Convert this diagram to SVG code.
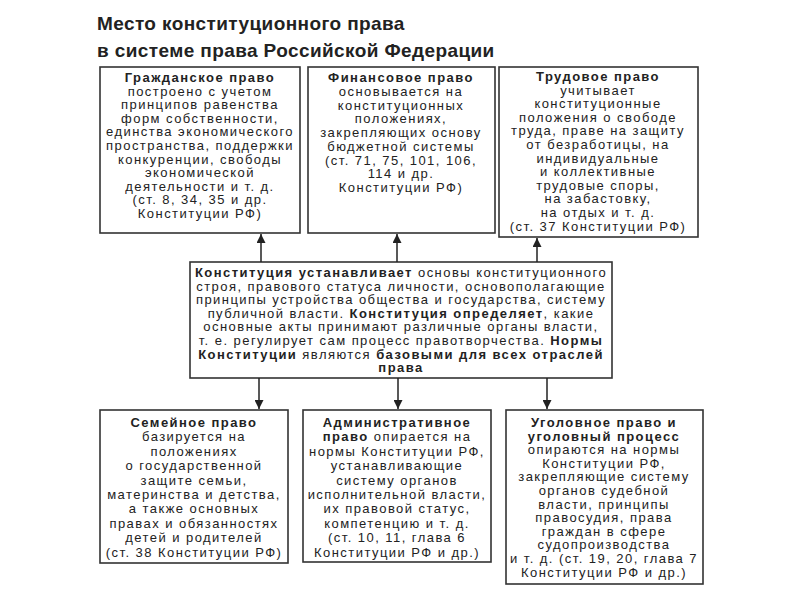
<svg xmlns="http://www.w3.org/2000/svg" width="800" height="600" viewBox="0 0 800 600">
<style>
.box{fill:#fff;stroke:#333;stroke-width:1.6}
.t{font-family:"Liberation Sans",Arial,sans-serif;font-size:13px;letter-spacing:1.45px;fill:#222;text-anchor:middle}
.b{font-weight:bold}
.title{font-family:"Liberation Sans",Arial,sans-serif;font-size:19px;letter-spacing:0.4px;font-weight:bold;fill:#222}
.c{stroke:#222;stroke-width:1.5;fill:none}
</style>
<defs>
<marker id="ah" viewBox="0 0 10 10" refX="10" refY="5" markerWidth="9" markerHeight="9" markerUnits="userSpaceOnUse" orient="auto">
<path d="M0,0 L10,5 L0,10 z" fill="#222"/>
</marker>
</defs>
<rect width="800" height="600" fill="#fff"/>
<text class="title" x="97" y="30">Место конституционного права</text>
<text class="title" x="97" y="57">в системе права Российской Федерации</text>

<g id="civil">
<rect class="box" x="100" y="67" width="200" height="166"/>
<text class="t" x="200" y="82"><tspan class="b">Гражданское право</tspan><tspan x="200" dy="13.6">построено с учетом</tspan><tspan x="200" dy="13.6">принципов равенства</tspan><tspan x="200" dy="13.6">форм собственности,</tspan><tspan x="200" dy="13.6">единства экономического</tspan><tspan x="200" dy="13.6">пространства, поддержки</tspan><tspan x="200" dy="13.6">конкуренции, свободы</tspan><tspan x="200" dy="13.6">экономической</tspan><tspan x="200" dy="13.6">деятельности и т. д.</tspan><tspan x="200" dy="13.6">(ст. 8, 34, 35 и др.</tspan><tspan x="200" dy="13.6">Конституции РФ)</tspan></text>
</g>
<g id="finance">
<rect class="box" x="308" y="67" width="187" height="166"/>
<text class="t" x="401" y="82"><tspan class="b">Финансовое право</tspan><tspan x="401" dy="13.75">основывается на</tspan><tspan x="401" dy="13.75">конституционных</tspan><tspan x="401" dy="13.75">положениях,</tspan><tspan x="401" dy="13.75">закрепляющих основу</tspan><tspan x="401" dy="13.75">бюджетной системы</tspan><tspan x="401" dy="13.75">(ст. 71, 75, 101, 106,</tspan><tspan x="401" dy="13.75">114 и др.</tspan><tspan x="401" dy="13.75">Конституции РФ)</tspan></text>
</g>
<g id="labour">
<rect class="box" x="499" y="67" width="199" height="170"/>
<text class="t" x="598" y="81"><tspan class="b">Трудовое право</tspan><tspan x="598" dy="13.6">учитывает</tspan><tspan x="598" dy="13.6">конституционные</tspan><tspan x="598" dy="13.6">положения о свободе</tspan><tspan x="598" dy="13.6">труда, праве на защиту</tspan><tspan x="598" dy="13.6">от безработицы, на</tspan><tspan x="598" dy="13.6">индивидуальные</tspan><tspan x="598" dy="13.6">и коллективные</tspan><tspan x="598" dy="13.6">трудовые споры,</tspan><tspan x="598" dy="13.6">на забастовку,</tspan><tspan x="598" dy="13.6">на отдых и т. д.</tspan><tspan x="598" dy="13.6">(ст. 37 Конституции РФ)</tspan></text>
</g>
<g id="constitution">
<rect class="box" x="190" y="262" width="422" height="116"/>
<text class="t" x="401" y="277"><tspan class="b">Конституция устанавливает</tspan> основы конституционного<tspan x="401" dy="13.6">строя, правового статуса личности, основополагающие</tspan><tspan x="401" dy="13.6">принципы устройства общества и государства, систему</tspan><tspan x="401" dy="13.6">публичной власти. <tspan class="b">Конституция определяет</tspan>, какие</tspan><tspan x="401" dy="13.6">основные акты принимают различные органы власти,</tspan><tspan x="401" dy="13.6">т. е. регулирует сам процесс правотворчества. <tspan class="b">Нормы</tspan></tspan><tspan x="401" dy="13.6"><tspan class="b">Конституции</tspan> являются <tspan class="b">базовыми для всех отраслей</tspan></tspan><tspan x="401" dy="13.6" class="b">права</tspan></text>
</g>
<g id="family">
<rect class="box" x="100" y="410" width="188" height="153"/>
<text class="t" x="194" y="427"><tspan class="b">Семейное право</tspan><tspan x="194" dy="14.4">базируется на</tspan><tspan x="194" dy="14.4">положениях</tspan><tspan x="194" dy="14.4">о государственной</tspan><tspan x="194" dy="14.4">защите семьи,</tspan><tspan x="194" dy="14.4">материнства и детства,</tspan><tspan x="194" dy="14.4">а также основных</tspan><tspan x="194" dy="14.4">правах и обязанностях</tspan><tspan x="194" dy="14.4">детей и родителей</tspan><tspan x="194" dy="14.4">(ст. 38 Конституции РФ)</tspan></text>
</g>
<g id="admin">
<rect class="box" x="303" y="410" width="188" height="152"/>
<text class="t" x="397" y="427"><tspan class="b">Административное</tspan><tspan x="397" dy="14.4"><tspan class="b">право</tspan> опирается на</tspan><tspan x="397" dy="14.4">нормы Конституции РФ,</tspan><tspan x="397" dy="14.4">устанавливающие</tspan><tspan x="397" dy="14.4">систему органов</tspan><tspan x="397" dy="14.4">исполнительной власти,</tspan><tspan x="397" dy="14.4">их правовой статус,</tspan><tspan x="397" dy="14.4">компетенцию и т. д.</tspan><tspan x="397" dy="14.4">(ст. 10, 11, глава 6</tspan><tspan x="397" dy="14.4">Конституции РФ и др.)</tspan></text>
</g>
<g id="criminal">
<rect class="box" x="506" y="410" width="197" height="174"/>
<text class="t" x="604" y="427"><tspan class="b">Уголовное право и</tspan><tspan x="604" dy="13.6" class="b">уголовный процесс</tspan><tspan x="604" dy="13.6">опираются на нормы</tspan><tspan x="604" dy="13.6">Конституции РФ,</tspan><tspan x="604" dy="13.6">закрепляющие систему</tspan><tspan x="604" dy="13.6">органов судебной</tspan><tspan x="604" dy="13.6">власти, принципы</tspan><tspan x="604" dy="13.6">правосудия, права</tspan><tspan x="604" dy="13.6">граждан в сфере</tspan><tspan x="604" dy="13.6">судопроизводства</tspan><tspan x="604" dy="13.6">и т. д. (ст. 19, 20, глава 7</tspan><tspan x="604" dy="13.6">Конституции РФ и др.)</tspan></text>
</g>
<g id="connectors">
<line class="c" x1="261" y1="262" x2="261" y2="234" marker-end="url(#ah)"/>
<line class="c" x1="397" y1="262" x2="397" y2="234" marker-end="url(#ah)"/>
<line class="c" x1="537" y1="262" x2="537" y2="238" marker-end="url(#ah)"/>
<line class="c" x1="259" y1="378" x2="259" y2="409" marker-end="url(#ah)"/>
<line class="c" x1="398" y1="378" x2="398" y2="409" marker-end="url(#ah)"/>
<line class="c" x1="547" y1="378" x2="547" y2="409" marker-end="url(#ah)"/>
</g>
</svg>
